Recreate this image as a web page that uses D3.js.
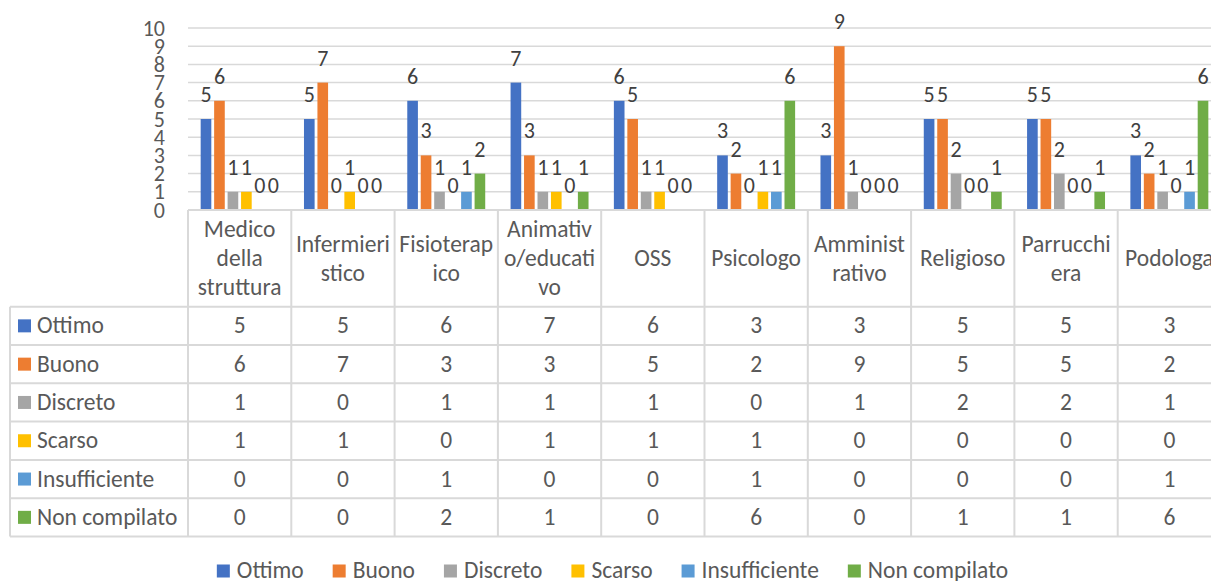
<!DOCTYPE html>
<html>
<head>
<meta charset="utf-8">
<script src="https://cdn.jsdelivr.net/npm/d3@7"></script>
<style>
  body { margin: 0; background: #fff; }
  svg text { font-family: Carlito, Lato, "Open Sans", sans-serif; }
</style>
</head>
<body>
<div id="chart"></div>
<script>
// Categories (with the wrapped header lines as they appear in the table)
const categories = ['Medico della struttura', 'Infermieristico', 'Fisioterapico', 'Animativo/educativo',
    'OSS', 'Psicologo', 'Amministrativo', 'Religioso', 'Parrucchiera', 'Podologa'];
const categoryLines = [
    ['Medico', 'della', 'struttura'],
    ['Infermieri', 'stico'],
    ['Fisioterap', 'ico'],
    ['Animativ', 'o/educati', 'vo'],
    ['OSS'],
    ['Psicologo'],
    ['Amminist', 'rativo'],
    ['Religioso'],
    ['Parrucchi', 'era'],
    ['Podologa']
];

const seriesNames = ['Ottimo', 'Buono', 'Discreto', 'Scarso', 'Insufficiente', 'Non compilato'];
const seriesColors = ['#4472C4', '#ED7D31', '#A5A5A5', '#FFC000', '#5B9BD5', '#70AD47'];

const ottimo        = [5, 5, 6, 7, 6, 3, 3, 5, 5, 3];
const buono         = [6, 7, 3, 3, 5, 2, 9, 5, 5, 2];
const discreto      = [1, 0, 1, 1, 1, 0, 1, 2, 2, 1];
const scarso        = [1, 1, 0, 1, 1, 1, 0, 0, 0, 0];
const insufficiente = [0, 0, 1, 0, 0, 1, 0, 0, 0, 1];
const nonCompilato  = [0, 0, 2, 1, 0, 6, 0, 1, 1, 6];

const seriesValues = [ottimo, buono, discreto, scarso, insufficiente, nonCompilato];
const yTicks = [0, 1, 2, 3, 4, 5, 6, 7, 8, 9, 10];

const W = 1211, H = 581;
const plotLeft = 188, plotRight = 1221;
const yTop = 28, yBottom = 210;
const tableLeft = 10;
const headerBottom = 306.7, rowH = 38.3;
const gridColor = '#d9d9d9';
const textColor = '#595959';
const tableFont = 23.5;

const svg = d3.select('#chart').append('svg')
    .attr('width', W).attr('height', H);
svg.append('rect').attr('width', W).attr('height', H).attr('fill', '#fff');

// Scales
const x = d3.scaleBand().domain(categories).range([plotLeft, plotRight]).padding(0);
const xs = d3.scaleBand().domain(seriesNames)
    .range([12, x.bandwidth() - 12]).paddingInner(0.21).paddingOuter(0.05);
const y = d3.scaleLinear().domain([0, 10]).range([yBottom, yTop]);

// Gridlines
svg.append('g').selectAll('line').data(yTicks.slice(1)).enter().append('line')
    .attr('x1', plotLeft).attr('x2', W)
    .attr('y1', d => y(d)).attr('y2', d => y(d))
    .attr('stroke', gridColor).attr('stroke-width', 1.5);

// Y axis labels
const yAxis = svg.append('g').attr('transform', 'translate(165,0)')
    .call(d3.axisLeft(y).tickValues(yTicks).tickSize(0).tickPadding(0));
yAxis.select('.domain').remove();
yAxis.selectAll('text').attr('font-size', 22).attr('fill', textColor)
    .style('font-family', 'Carlito, Lato, sans-serif');

// Bars + data labels
seriesNames.forEach((name, si) => {
    const g = svg.append('g');
    g.selectAll('rect').data(seriesValues[si]).enter().append('rect')
        .attr('x', (d, i) => x(categories[i]) + xs(name))
        .attr('width', xs.bandwidth())
        .attr('y', d => y(d))
        .attr('height', d => yBottom - y(d))
        .attr('fill', seriesColors[si]);
    g.selectAll('text').data(seriesValues[si]).enter().append('text')
        .attr('x', (d, i) => x(categories[i]) + xs(name) + xs.bandwidth() / 2)
        .attr('y', d => y(d) - 17)
        .attr('text-anchor', 'middle')
        .attr('font-size', 22).attr('fill', '#404040')
        .text(d => d);
});

// Data table
const table = svg.append('g');
const tableBottom = headerBottom + rowH * seriesNames.length;

// horizontal lines
table.append('line').attr('x1', plotLeft).attr('x2', W).attr('y1', yBottom).attr('y2', yBottom)
    .attr('stroke', gridColor).attr('stroke-width', 2);
d3.range(seriesNames.length + 1).forEach(r => {
    table.append('line')
        .attr('x1', tableLeft).attr('x2', W)
        .attr('y1', headerBottom + r * rowH).attr('y2', headerBottom + r * rowH)
        .attr('stroke', gridColor).attr('stroke-width', 2);
});
// vertical lines
table.append('line').attr('x1', tableLeft).attr('x2', tableLeft)
    .attr('y1', headerBottom).attr('y2', tableBottom)
    .attr('stroke', gridColor).attr('stroke-width', 2);
categories.concat(['_end']).forEach((c, i) => {
    const xx = i < categories.length ? x(c) : plotRight;
    table.append('line').attr('x1', xx).attr('x2', xx)
        .attr('y1', yBottom).attr('y2', tableBottom)
        .attr('stroke', gridColor).attr('stroke-width', 2);
});

// header labels
categories.forEach((c, i) => {
    const lines = categoryLines[i];
    lines.forEach((ln, li) => {
        table.append('text')
            .attr('x', x(c) + x.bandwidth() / 2)
            .attr('y', 266 + (li - (lines.length - 1) / 2) * 29)
            .attr('text-anchor', 'middle')
            .attr('font-size', tableFont).attr('fill', textColor)
            .text(ln);
    });
});

// rows
seriesNames.forEach((name, si) => {
    const cy = headerBottom + si * rowH + rowH / 2;
    table.append('rect').attr('x', 18).attr('y', cy - 6.5).attr('width', 13).attr('height', 13)
        .attr('fill', seriesColors[si]);
    table.append('text').attr('x', 37).attr('y', cy + 7.5)
        .attr('font-size', tableFont).attr('fill', textColor).text(name);
    seriesValues[si].forEach((v, i) => {
        table.append('text')
            .attr('x', x(categories[i]) + x.bandwidth() / 2).attr('y', cy + 7.5)
            .attr('text-anchor', 'middle')
            .attr('font-size', tableFont).attr('fill', textColor).text(v);
    });
});

// Legend (centered on the full chart width)
const legend = svg.append('g');
let lx = 0;
seriesNames.forEach((name, si) => {
    const item = legend.append('g').attr('transform', `translate(${lx},0)`);
    item.append('rect').attr('x', 0).attr('y', 564.5).attr('width', 13).attr('height', 13)
        .attr('fill', seriesColors[si]);
    const t = item.append('text').attr('x', 20).attr('y', 578)
        .attr('font-size', 23.5).attr('fill', textColor).text(name);
    lx += 20 + t.node().getComputedTextLength() + 29;
});
lx -= 29;
legend.attr('transform', `translate(${612.5 - lx / 2},0)`);
</script>
</body>
</html>
